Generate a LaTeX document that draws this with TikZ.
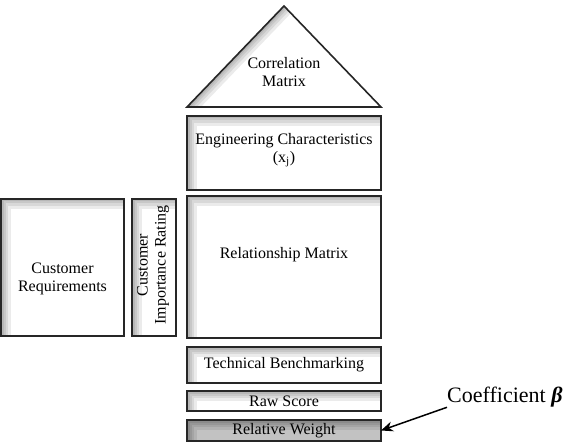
\documentclass[tikz,border=0pt]{standalone}
\usepackage{fontspec}
\setmainfont{Liberation Serif}
\usetikzlibrary{arrows.meta}
\tikzset{
  inshade/.style={line width=#1, black, opacity=0.08},
  box/.style={draw=black!85, line width=1.6pt, fill=white, inner sep=0pt, outer sep=0pt,
    font=\fontsize{16}{18}\selectfont, align=center,
    path picture={
      \foreach \w in {20,14,9,5,2}{
        \draw[inshade=\w pt] (path picture bounding box.south west) -- (path picture bounding box.north west) -- (path picture bounding box.north east);}
    }},
  lbl/.style={font=\fontsize{16}{18}\selectfont, align=center, inner sep=0pt},
}
\begin{document}
\begin{tikzpicture}[x=1pt,y=-1pt]
\useasboundingbox (0,0) rectangle (566,444);
% triangle
\coordinate (ta) at (284,6);
\coordinate (tl) at (187,107);
\coordinate (tr) at (381,107);
\fill[white] (ta) -- (tl) -- (tr) -- cycle;
\begin{scope}
  \clip (ta) -- (tl) -- (tr) -- cycle;
  \foreach \w in {20,14,9,5,2}{
    \draw[inshade=\w pt] (tl) -- (ta);}
\end{scope}
\draw[black!85, line width=1.6pt, line join=miter] (ta) -- (tl) -- (tr) -- cycle;
\node[lbl] (corr) at (284,72) {Correlation\\Matrix};
% boxes
\node[box, minimum width=194pt, minimum height=74pt] (eng) at (284,153) {};
\node[lbl] (engt) at (284,150) {Engineering Characteristics\\(x\textsubscript{j})};
\node[box, minimum width=194pt, minimum height=142pt] (rel) at (284,267) {};
\node[lbl] (relt) at (284,255) {Relationship Matrix};
\node[box, minimum width=123pt, minimum height=137pt] (cr) at (62.5,267.5) {};
\node[lbl] (crt) at (62.5,279) {Customer\\Requirements};
\node[box, minimum width=44pt, minimum height=137pt] (cir) at (154,267.5) {};
\node[lbl, rotate=90] (cirt) at (153,265) {Customer\\Importance Rating};
\node[box, minimum width=194pt, minimum height=36pt] (tb) at (284,365) {Technical Benchmarking};
\node[box, minimum width=194pt, minimum height=20pt] (rs) at (284,401) {Raw Score};
\node[box, fill=black!24, minimum width=194pt, minimum height=21pt] (rw) at (284,430.5) {Relative Weight};
% coefficient
\node[inner sep=0pt, anchor=west, font=\fontsize{22}{24}\selectfont] (coef) at (447,397) {Coefficient {\bfseries\itshape β}};
\draw[line width=1.5pt, -{Stealth[length=12pt,width=10pt]}] (coef.south west) -- (rw.east);
\end{tikzpicture}
\end{document}
